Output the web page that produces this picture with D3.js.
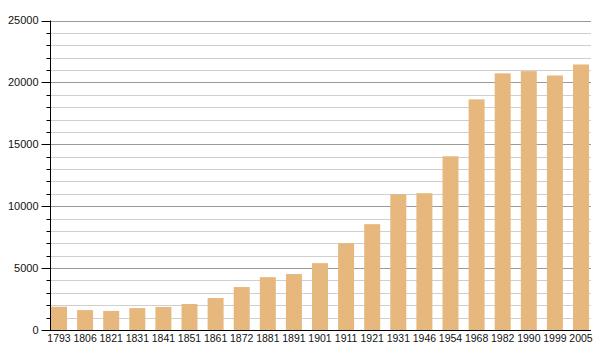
<!DOCTYPE html>
<html><head><meta charset="utf-8">
<script src="https://cdn.jsdelivr.net/npm/d3@7"></script>
<style>body{margin:0;background:#fff}svg{display:block}</style>
</head><body>
<svg id="c" width="600" height="360"></svg>
<script>
const years = ["1793","1806","1821","1831","1841","1851","1861","1872","1881","1891","1901","1911","1921","1931","1946","1954","1968","1982","1990","1999","2005"];
const population = [1880,1610,1540,1770,1860,2100,2580,3470,4270,4520,5400,7020,8550,10970,11050,14030,18630,20730,20910,20560,21450];
const yMajorTicks = [0,5000,10000,15000,20000,25000];
const yMinorTicks = d3.range(0,25001,1000);

const svg = d3.select("#c");
const x = d3.scaleBand().domain(years).range([51,589]).paddingInner(0.387).paddingOuter(0);
const y = d3.scaleLinear().domain([0,25000]).range([330,20.5]);
const left = 50, right = 591;

// minor gridlines
svg.append("g").selectAll("line").data(yMinorTicks.filter(d=>d%5000!==0)).join("line")
  .attr("x1",left).attr("x2",right).attr("y1",d=>Math.round(y(d))+0.5).attr("y2",d=>Math.round(y(d))+0.5)
  .attr("stroke","#cfcfcf").attr("stroke-width",1);
// major gridlines
svg.append("g").selectAll("line").data(yMajorTicks.filter(d=>d>0)).join("line")
  .attr("x1",left).attr("x2",right).attr("y1",d=>Math.round(y(d))+0.5).attr("y2",d=>Math.round(y(d))+0.5)
  .attr("stroke","#9a9a9a").attr("stroke-width",1);

// bars
svg.append("g").selectAll("rect").data(years).join("rect")
  .attr("x",d=>x(d)).attr("width",x.bandwidth())
  .attr("y",(d,i)=>y(population[i])).attr("height",(d,i)=>y(0)-y(population[i]))
  .attr("fill","#e6b87e");

// y axis
const yAxis = svg.append("g").attr("transform",`translate(${left+0.5},0)`);
yAxis.append("line").attr("x1",0).attr("x2",0).attr("y1",y(25000)).attr("y2",y(0)).attr("stroke","#000");
yAxis.selectAll(".mt").data(yMinorTicks.filter(d=>d%5000!==0)).join("line")
  .attr("x1",-4).attr("x2",0).attr("y1",d=>Math.round(y(d))+0.5).attr("y2",d=>Math.round(y(d))+0.5).attr("stroke","#000");
yAxis.selectAll(".Mt").data(yMajorTicks).join("line")
  .attr("x1",-9).attr("x2",0).attr("y1",d=>Math.round(y(d))+0.5).attr("y2",d=>Math.round(y(d))+0.5).attr("stroke","#000");
yAxis.selectAll("text").data(yMajorTicks).join("text")
  .attr("x",-12).attr("y",d=>y(d)).attr("dy","0.35em").attr("text-anchor","end")
  .attr("font-family","Liberation Sans, Arial, sans-serif").attr("font-size",11).attr("fill","#111")
  .text(d=>d);

// x axis
const xAxis = svg.append("g").attr("transform",`translate(0,${y(0)})`).call(d3.axisBottom(x).tickSize(0).tickPadding(5));
xAxis.select(".domain").attr("d",`M${left},0.5H${right}`).attr("stroke","#000");
xAxis.selectAll("text").attr("font-family","Liberation Sans, Arial, sans-serif").attr("font-size",10.5).attr("fill","#111");
</script>
</body></html>
